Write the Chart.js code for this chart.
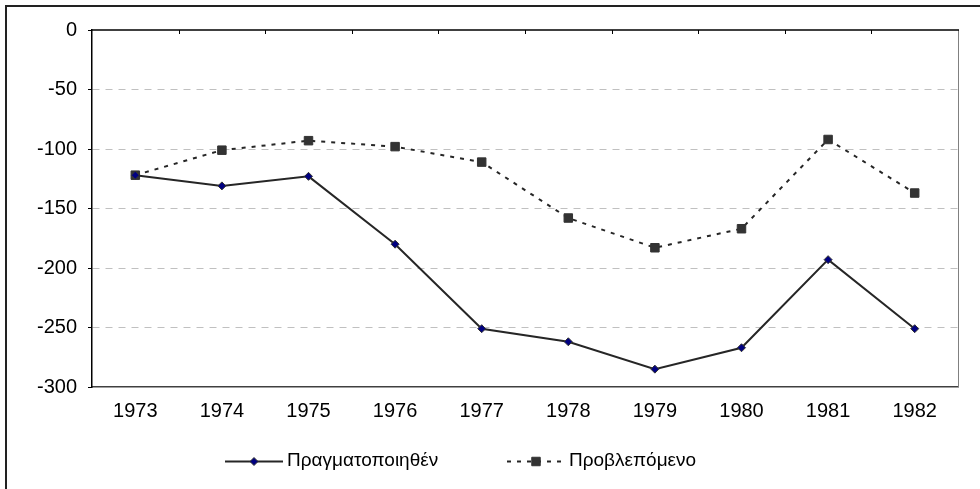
<!DOCTYPE html>
<html>
<head>
<meta charset="utf-8">
<script src="https://cdn.jsdelivr.net/npm/chart.js@4/dist/chart.umd.min.js"></script>
<style>
html,body{margin:0;padding:0;background:#fff;}
#wrap{width:980px;height:489px;position:relative;}
canvas{display:block;}
</style>
</head>
<body>
<div id="wrap"><canvas id="c" width="980" height="489"></canvas></div>
<script>
// ---- data ----
const years = ['1973','1974','1975','1976','1977','1978','1979','1980','1981','1982'];
const actualLabel = 'Πραγματοποιηθέν';
const forecastLabel = 'Προβλεπόμενο';
const actual   = [-122, -131, -123, -180, -251, -262, -285, -267, -193, -251];
const forecast = [-122, -101,  -93,  -98, -111, -158, -183, -167,  -92, -137];
const yMin = -300;
const yMax = 0;
const yStep = 50;

const FONT = "Arial, 'Liberation Sans', sans-serif";
const FONT_SIZE = 20;
const LEGEND_FONT_SIZE = 19;

// frame: outer border, plot border, top tick marks
const framePlugin = {
  id: 'frame',
  beforeDatasetsDraw(chart) {
    const {ctx, chartArea: a, scales: {x}} = chart;
    ctx.save();
    ctx.strokeStyle = '#808080';
    ctx.lineWidth = 1;
    ctx.beginPath();
    ctx.moveTo(a.right + 0.5, a.top);
    ctx.lineTo(a.right + 0.5, a.bottom);
    ctx.stroke();
    ctx.strokeStyle = '#000';
    ctx.lineWidth = 1.5;
    ctx.beginPath();
    ctx.moveTo(a.left, a.top);
    ctx.lineTo(a.right + 1, a.top);
    ctx.stroke();
    ctx.lineWidth = 1;
    const n = x.ticks.length;
    for (let i = 1; i < n; i++) {
      const px = Math.round((x.getPixelForValue(i - 1) + x.getPixelForValue(i)) / 2) + 0.5;
      ctx.beginPath();
      ctx.moveTo(px, a.top);
      ctx.lineTo(px, a.top + 4);
      ctx.stroke();
    }
    ctx.restore();
  },
  afterDraw(chart) {
    const ctx = chart.ctx;
    ctx.save();
    ctx.strokeStyle = '#222';
    ctx.lineWidth = 2;
    ctx.strokeRect(6, 6, 1100, 1100);
    ctx.restore();
  }
};

// legend: line + marker + text
const legendPlugin = {
  id: 'lineLegend',
  afterDraw(chart, args, opts) {
    const ctx = chart.ctx;
    const y = opts.y;
    chart.data.datasets.forEach((ds, i) => {
      const x0 = opts.x[i];
      const x1 = x0 + opts.lineLength;
      ctx.save();
      ctx.strokeStyle = ds.borderColor;
      ctx.lineWidth = ds.borderWidth;
      ctx.setLineDash(ds.borderDash || []);
      ctx.beginPath();
      ctx.moveTo(x0, y + 0.5);
      ctx.lineTo(x1, y + 0.5);
      ctx.stroke();
      ctx.setLineDash([]);
      ctx.fillStyle = ds.pointBackgroundColor;
      ctx.strokeStyle = ds.pointBorderColor;
      ctx.lineWidth = ds.pointBorderWidth;
      Chart.helpers.drawPoint(ctx, {pointStyle: ds.pointStyle, radius: ds.pointRadius, rotation: 0, borderWidth: ds.pointBorderWidth}, (x0 + x1) / 2, y + 0.5);
      ctx.fillStyle = '#000';
      ctx.font = LEGEND_FONT_SIZE + 'px ' + FONT;
      ctx.textBaseline = 'middle';
      ctx.textAlign = 'left';
      ctx.fillText(ds.label, x1 + opts.gap, y);
      ctx.restore();
    });
  }
};

new Chart(document.getElementById('c'), {
  type: 'line',
  data: {
    labels: years,
    datasets: [
      {
        label: actualLabel,
        data: actual,
        borderColor: '#262626',
        borderWidth: 2,
        pointStyle: 'rectRot',
        pointRadius: 4,
        pointHoverRadius: 4,
        pointBackgroundColor: '#000080',
        pointBorderColor: '#333333',
        pointBorderWidth: 1,
        tension: 0,
        fill: false
      },
      {
        label: forecastLabel,
        data: forecast,
        borderColor: '#262626',
        borderWidth: 2,
        borderDash: [4, 6],
        pointStyle: 'rect',
        pointRadius: 6,
        pointHoverRadius: 6,
        pointBackgroundColor: '#333333',
        pointBorderColor: '#333333',
        pointBorderWidth: 1,
        tension: 0,
        fill: false
      }
    ]
  },
  options: {
    responsive: false,
    animation: false,
    devicePixelRatio: 1,
    layout: { padding: { top: 30, right: 22, left: 0, bottom: 0 } },
    plugins: {
      legend: { display: false },
      tooltip: { enabled: false },
      lineLegend: { x: [225, 507], y: 461, lineLength: 58, gap: 4 }
    },
    scales: {
      x: {
        offset: true,
        grid: { display: false, drawTicks: false },
        border: { display: true, color: '#404040', width: 1.5 },
        ticks: {
          color: '#000',
          font: { family: FONT, size: FONT_SIZE },
          padding: 12,
          maxRotation: 0,
          autoSkip: false
        },
        afterFit(scale) { scale.height = 102; }
      },
      y: {
        min: yMin,
        max: yMax,
        grid: {
          color: (c) => (c.tick && (c.tick.value === yMin || c.tick.value === yMax)) ? 'rgba(0,0,0,0)' : '#c0c0c0',
          lineWidth: 1,
          tickColor: '#000',
          tickLength: 4,
          tickWidth: 1
        },
        border: { display: true, color: '#000', width: 1.5, dash: [7, 6] },
        ticks: {
          stepSize: yStep,
          color: '#000',
          font: { family: FONT, size: FONT_SIZE },
          padding: 11
        },
        afterFit(scale) { scale.width = 92; }
      }
    }
  },
  plugins: [framePlugin, legendPlugin]
});
</script>
</body>
</html>
